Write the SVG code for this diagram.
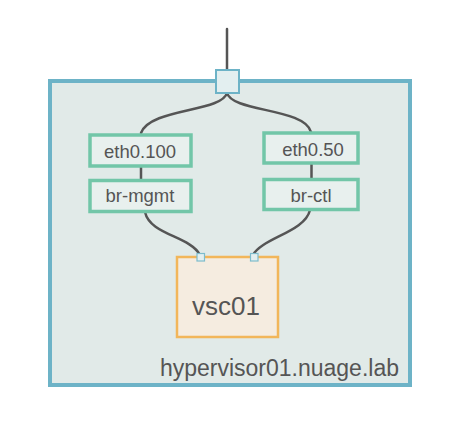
<svg xmlns="http://www.w3.org/2000/svg" width="461" height="421" viewBox="0 0 461 421">
<style>
.host{fill:#e1eae8;stroke:#6db3c7;stroke-width:4}
.nic{fill:#e8f0ee;stroke:#72c6a8;stroke-width:3.5}
.vm{fill:#f5ece0;stroke:#f2b65a;stroke-width:2.5}
.port{fill:#e3eff0;stroke:#6db3c7;stroke-width:2}
.sport{fill:#e3eff0;stroke:#7dbccc;stroke-width:1.2}
.wire{fill:none;stroke:#555;stroke-width:2.5;stroke-linecap:round}
text{font-family:"Liberation Sans",Arial,sans-serif;fill:#555}
.lbl{font-size:18.5px;text-anchor:middle}
</style>
<rect width="461" height="421" fill="#fff"/>
<g id="hypervisor01">
<rect class="host" x="50" y="81" width="360" height="304"/>
<text x="399" y="376" font-size="23" text-anchor="end">hypervisor01.nuage.lab</text>
</g>
<g id="connectors">
<line class="wire" x1="227" y1="29" x2="227" y2="70"/>
<path class="wire" d="M227,93 C222,112 150,108 141,133"/>
<path class="wire" d="M227,93 C232,112 305,108 311,132"/>
<line class="wire" x1="141" y1="166" x2="141" y2="180"/>
<line class="wire" x1="311.5" y1="163" x2="311.5" y2="179"/>
<path class="wire" d="M145,212 C150,235 190,236 200,255"/>
<path class="wire" d="M310,210 C305,232 262,238 253,255"/>
</g>
<g id="uplink">
<rect class="port" x="216" y="70" width="23" height="23"/>
</g>
<g id="eth0.100">
<rect class="nic" x="90" y="135" width="101" height="31"/>
<text class="lbl" x="140" y="157.5">eth0.100</text>
</g>
<g id="br-mgmt">
<rect class="nic" x="90" y="180.5" width="101" height="31"/>
<text class="lbl" x="140" y="202">br-mgmt</text>
</g>
<g id="eth0.50">
<rect class="nic" x="264" y="133" width="94" height="30"/>
<text class="lbl" x="313" y="155.5">eth0.50</text>
</g>
<g id="br-ctl">
<rect class="nic" x="264" y="179.5" width="94" height="30"/>
<text class="lbl" x="311" y="201.5">br-ctl</text>
</g>
<g id="vsc01">
<rect class="vm" x="177" y="257" width="101" height="80"/>
<text x="226" y="315" font-size="26" text-anchor="middle">vsc01</text>
<rect class="sport" x="197" y="253.5" width="7.5" height="7.5"/>
<rect class="sport" x="250.5" y="253.5" width="7.5" height="7.5"/>
</g>
</svg>
